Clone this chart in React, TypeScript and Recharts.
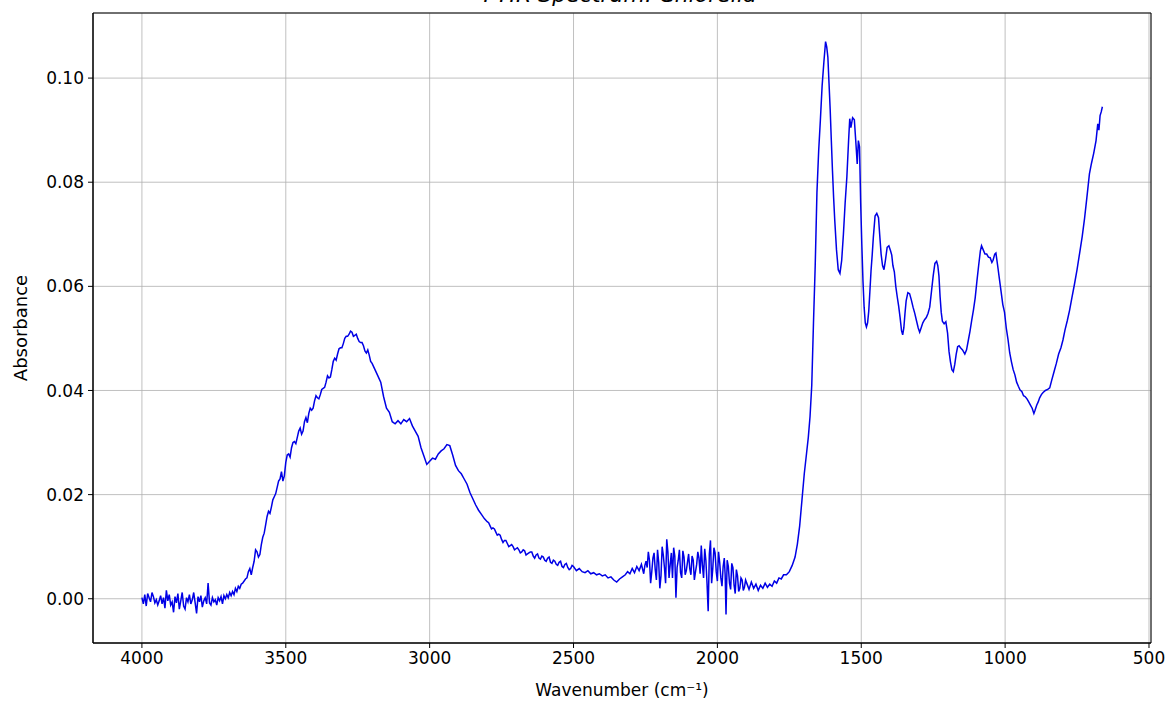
import { LineChart, Line, XAxis, YAxis, CartesianGrid, ReferenceArea } from 'recharts';

// [wavenumber (cm-1), absorbance]
const baselineRegion: [number, number][] = [
  [4000, 0.0002], [3995, -0.001], [3990, 0.0008], [3985, -0.0014], [3980, 0.001],
  [3975, 0.0002], [3970, -0.0006], [3965, 0.0012], [3960, 0.0004], [3955, -0.0008],
  [3950, -0.0002], [3945, -0.0012], [3940, -0.0004], [3935, 0.0006], [3930, -0.001],
  [3925, 0.0002], [3920, -0.0018], [3915, 0.0016], [3910, -0.0004], [3905, 0.0008],
  [3900, -0.0012], [3895, -0.0006], [3890, -0.0026], [3885, 0.0004], [3880, -0.0008],
  [3875, 0.001], [3870, -0.002], [3865, -0.0004], [3860, 0.0012], [3855, -0.0014],
  [3850, -0.002], [3845, 0.0002], [3840, -0.0006], [3835, 0.0008], [3830, -0.001],
  [3825, -0.0002], [3820, 0.0012], [3815, -0.0008], [3810, -0.0028], [3805, 0.0004],
  [3800, -0.0006], [3795, 0.0006], [3790, -0.0016], [3785, -0.0004], [3780, 0.0002],
  [3775, -0.001], [3770, 0.003], [3765, -0.0008], [3760, -0.0012], [3755, 0.0002],
  [3750, -0.0006], [3745, -0.0002], [3740, -0.0012], [3735, 0.0002], [3730, -0.0004],
  [3725, 0.0004], [3720, -0.001], [3715, 0.0006], [3710, 0], [3705, 0.0008],
  [3700, 0.0002], [3695, 0.0012], [3690, 0.0006], [3685, 0.0014], [3680, 0.0008],
  [3675, 0.002], [3670, 0.0014], [3665, 0.0024], [3660, 0.002], [3655, 0.0028],
  [3650, 0.003]
];

const ohBand: [number, number][] = [
  [3640, 0.0038], [3635, 0.004], [3630, 0.0052], [3625, 0.0058], [3620, 0.0046],
  [3615, 0.006], [3610, 0.0072], [3605, 0.0094], [3600, 0.009], [3595, 0.008],
  [3590, 0.0085], [3585, 0.0104], [3580, 0.0118], [3575, 0.0126], [3570, 0.0142],
  [3565, 0.0158], [3560, 0.0168], [3555, 0.0164], [3550, 0.0176], [3545, 0.019],
  [3540, 0.0196], [3535, 0.0202], [3530, 0.0214], [3525, 0.0226], [3520, 0.023],
  [3515, 0.0244], [3510, 0.0226], [3505, 0.0236], [3500, 0.0262], [3495, 0.0276],
  [3490, 0.0278], [3485, 0.0272], [3480, 0.029], [3475, 0.03], [3470, 0.0302],
  [3465, 0.0298], [3460, 0.031], [3455, 0.0322], [3450, 0.0328], [3445, 0.0316],
  [3440, 0.0322], [3435, 0.034], [3430, 0.0348], [3425, 0.0338], [3420, 0.0356],
  [3415, 0.0366], [3410, 0.0362], [3405, 0.0366], [3400, 0.038], [3395, 0.039],
  [3390, 0.0386], [3385, 0.0384], [3380, 0.0392], [3375, 0.0402], [3370, 0.0404],
  [3365, 0.0406], [3360, 0.0416], [3355, 0.0428], [3350, 0.0424], [3345, 0.0426],
  [3340, 0.044], [3335, 0.0456], [3330, 0.0462], [3325, 0.0458], [3320, 0.047],
  [3315, 0.048], [3310, 0.0482], [3305, 0.0482], [3300, 0.049], [3295, 0.05],
  [3290, 0.0504], [3285, 0.0504], [3280, 0.0508], [3275, 0.0514], [3270, 0.0512],
  [3265, 0.0504], [3260, 0.0506], [3255, 0.0508], [3250, 0.05], [3245, 0.0494],
  [3240, 0.0492], [3235, 0.0492], [3230, 0.0486], [3225, 0.0476], [3220, 0.0472],
  [3215, 0.0478], [3210, 0.0468], [3205, 0.0456], [3200, 0.0452],
  [3190, 0.044], [3180, 0.0428], [3170, 0.0416], [3160, 0.0388], [3150, 0.0366],
  [3140, 0.0358], [3130, 0.034], [3120, 0.0336], [3110, 0.0342], [3100, 0.0336],
  [3090, 0.0344], [3080, 0.034], [3070, 0.0346], [3060, 0.0332], [3050, 0.0322],
  [3040, 0.0312], [3030, 0.029], [3020, 0.0274], [3010, 0.0258], [3000, 0.0264],
  [2990, 0.027], [2980, 0.0268], [2970, 0.0278], [2960, 0.0284], [2950, 0.0288],
  [2940, 0.0296], [2930, 0.0294], [2920, 0.0276], [2910, 0.0256], [2900, 0.0246],
  [2890, 0.024], [2880, 0.023], [2870, 0.022], [2860, 0.0204], [2850, 0.0192],
  [2840, 0.018], [2830, 0.017], [2820, 0.0162], [2810, 0.0154], [2800, 0.0148]
];

const tailRegion: [number, number][] = [
  [2795, 0.0146], [2790, 0.014], [2785, 0.0134], [2780, 0.0136], [2775, 0.0134],
  [2770, 0.0128], [2765, 0.0122], [2760, 0.0124], [2755, 0.0122], [2750, 0.0114],
  [2745, 0.0108], [2740, 0.0112], [2735, 0.0112], [2730, 0.0106], [2725, 0.01],
  [2720, 0.0102], [2715, 0.0104], [2710, 0.01], [2705, 0.0094], [2700, 0.0096],
  [2695, 0.0098], [2690, 0.0094], [2685, 0.0088], [2680, 0.009], [2675, 0.0094],
  [2670, 0.0092], [2665, 0.0084], [2660, 0.0086], [2655, 0.0088], [2650, 0.009],
  [2645, 0.009], [2640, 0.0082], [2635, 0.0078], [2630, 0.0084], [2625, 0.0086],
  [2620, 0.0078], [2615, 0.0076], [2610, 0.0082], [2605, 0.008], [2600, 0.0074],
  [2595, 0.0072], [2590, 0.0078], [2585, 0.008], [2580, 0.007], [2575, 0.0068],
  [2570, 0.0074], [2565, 0.0072], [2560, 0.0066], [2555, 0.0064], [2550, 0.007],
  [2545, 0.0072], [2540, 0.0062], [2535, 0.006], [2530, 0.0066], [2525, 0.0068],
  [2520, 0.006], [2515, 0.0056], [2510, 0.0058], [2505, 0.0064], [2500, 0.0062],
  [2490, 0.0054], [2480, 0.0058], [2470, 0.0052], [2460, 0.005], [2450, 0.0054],
  [2440, 0.0048], [2430, 0.005], [2420, 0.0046], [2410, 0.0048], [2400, 0.0044],
  [2390, 0.0046], [2380, 0.004], [2370, 0.0042], [2360, 0.0036], [2350, 0.0032],
  [2340, 0.0038], [2330, 0.0042]
];

const co2Region: [number, number][] = [
  [2320, 0.0046], [2312, 0.0052], [2304, 0.0048], [2296, 0.0058], [2288, 0.005],
  [2280, 0.0062], [2272, 0.0054], [2264, 0.0066], [2256, 0.0048], [2252, 0.0064],
  [2248, 0.0072], [2244, 0.006], [2240, 0.009], [2236, 0.0074], [2232, 0.003],
  [2228, 0.0052], [2224, 0.0078], [2220, 0.0088], [2216, 0.0056], [2212, 0.0036],
  [2208, 0.0094], [2204, 0.007], [2200, 0.002], [2196, 0.0044], [2192, 0.01],
  [2188, 0.0084], [2184, 0.006], [2180, 0.003], [2176, 0.0114], [2172, 0.009],
  [2168, 0.004], [2164, 0.0066], [2160, 0.0088], [2156, 0.004], [2152, 0.0098],
  [2148, 0.0082], [2144, 0.0002], [2140, 0.006], [2136, 0.0074], [2132, 0.0094],
  [2128, 0.005], [2124, 0.004], [2120, 0.0092], [2116, 0.008], [2112, 0.0046],
  [2108, 0.0054], [2104, 0.007], [2100, 0.0086], [2096, 0.0058], [2092, 0.0046],
  [2088, 0.0082], [2084, 0.0074], [2080, 0.0036], [2076, 0.0052], [2072, 0.0066],
  [2068, 0.009], [2064, 0.0078], [2060, 0.0048], [2056, 0.0102], [2052, 0.0064],
  [2048, 0.004], [2044, 0.0096], [2040, 0.0074], [2036, 0.003], [2032, -0.0024],
  [2028, 0.0086], [2024, 0.0112], [2020, 0.003], [2016, 0.0058], [2012, 0.0098],
  [2008, 0.0088], [2004, 0.0052], [2000, 0.0034], [1996, 0.009], [1992, 0.007],
  [1988, 0.004], [1984, 0.0024], [1980, 0.0062], [1976, 0.0078], [1973, 0.0046],
  [1970, -0.003], [1966, 0.0074], [1962, 0.0062], [1958, 0.003], [1954, 0.0018],
  [1950, 0.0068], [1946, 0.006], [1942, 0.0026], [1938, 0.001], [1934, 0.0056],
  [1930, 0.0044], [1926, 0.0014], [1922, 0.002], [1918, 0.004], [1914, 0.0036],
  [1910, 0.0016], [1906, 0.0022], [1902, 0.0036], [1898, 0.003], [1890, 0.0018],
  [1882, 0.0032], [1874, 0.002], [1866, 0.0028], [1858, 0.0016], [1850, 0.0026],
  [1842, 0.002], [1834, 0.003], [1826, 0.0022], [1818, 0.0028], [1810, 0.0024],
  [1802, 0.0034], [1794, 0.003], [1786, 0.004], [1778, 0.0038], [1770, 0.0046]
];

const amideRegion: [number, number][] = [
  [1760, 0.0046], [1750, 0.0052], [1740, 0.0064], [1730, 0.008], [1722, 0.0105],
  [1714, 0.014], [1706, 0.019], [1698, 0.024], [1690, 0.028], [1684, 0.031],
  [1678, 0.035], [1672, 0.041], [1666, 0.053], [1660, 0.064], [1654, 0.078],
  [1648, 0.086], [1642, 0.092], [1636, 0.0985], [1630, 0.103], [1624, 0.107],
  [1620, 0.106], [1616, 0.104], [1612, 0.099], [1608, 0.094], [1604, 0.088],
  [1600, 0.0822], [1596, 0.077], [1592, 0.0726], [1586, 0.067], [1580, 0.0632],
  [1574, 0.0625], [1568, 0.065], [1562, 0.07], [1556, 0.076], [1550, 0.081],
  [1544, 0.088], [1540, 0.0922], [1536, 0.0905], [1530, 0.0924], [1524, 0.092],
  [1518, 0.087], [1514, 0.0835], [1510, 0.088], [1506, 0.0868], [1502, 0.076],
  [1498, 0.068], [1494, 0.061], [1490, 0.056], [1486, 0.053], [1482, 0.0522],
  [1478, 0.053], [1474, 0.0552], [1470, 0.059], [1466, 0.063], [1462, 0.066],
  [1458, 0.0694], [1452, 0.0735], [1446, 0.074], [1440, 0.0732], [1436, 0.07],
  [1431, 0.0662], [1426, 0.064], [1421, 0.0632], [1416, 0.065], [1410, 0.0675],
  [1404, 0.0678], [1398, 0.0668], [1394, 0.066], [1390, 0.064], [1385, 0.0628],
  [1380, 0.06], [1375, 0.058], [1370, 0.0562], [1365, 0.054], [1360, 0.0515],
  [1356, 0.0507], [1352, 0.052], [1348, 0.0548], [1344, 0.0572], [1338, 0.0588],
  [1332, 0.0586], [1326, 0.0574], [1320, 0.056], [1314, 0.0548], [1308, 0.0534],
  [1302, 0.052], [1297, 0.0512], [1292, 0.052], [1286, 0.053], [1280, 0.0536],
  [1274, 0.054], [1268, 0.0548], [1262, 0.056], [1256, 0.059], [1250, 0.062],
  [1244, 0.0644], [1238, 0.0648], [1234, 0.064], [1230, 0.062], [1226, 0.058],
  [1222, 0.055], [1218, 0.0533], [1212, 0.0528], [1206, 0.0532], [1200, 0.051],
  [1195, 0.0475], [1190, 0.0455], [1185, 0.044], [1180, 0.0436], [1175, 0.045],
  [1170, 0.047], [1165, 0.0484], [1160, 0.0486], [1155, 0.0482], [1148, 0.0478],
  [1140, 0.047], [1134, 0.0478], [1128, 0.0496], [1122, 0.0514], [1116, 0.0535],
  [1110, 0.0555], [1104, 0.0578], [1098, 0.061], [1092, 0.064], [1086, 0.0668],
  [1082, 0.0678], [1076, 0.067], [1070, 0.0662], [1064, 0.0662], [1058, 0.0656],
  [1052, 0.0655], [1046, 0.0646], [1042, 0.065], [1036, 0.0662], [1032, 0.0664],
  [1026, 0.064], [1020, 0.0615], [1014, 0.059], [1008, 0.0565], [1002, 0.055],
  [996, 0.052], [990, 0.0498], [984, 0.0472], [978, 0.0455], [972, 0.044],
  [966, 0.043], [960, 0.0416], [954, 0.0408], [948, 0.0401], [942, 0.0398],
  [936, 0.039], [930, 0.0388], [924, 0.0384], [918, 0.0378], [912, 0.0372],
  [906, 0.0366], [900, 0.0356], [896, 0.0362], [890, 0.0372], [885, 0.0378],
  [880, 0.0386], [874, 0.0392], [868, 0.0396], [860, 0.04], [852, 0.0402],
  [845, 0.0405], [838, 0.042], [830, 0.0436], [822, 0.0452], [814, 0.047],
  [806, 0.0482], [799, 0.0497], [792, 0.0516], [784, 0.0534], [776, 0.0554],
  [768, 0.0578], [759, 0.0604], [750, 0.0632], [741, 0.0664], [732, 0.0696],
  [724, 0.073], [716, 0.077], [707, 0.0816], [700, 0.0836], [692, 0.0856],
  [684, 0.088], [678, 0.0912], [674, 0.09], [670, 0.0928], [666, 0.0935],
  [662, 0.0945]
];

const xTicks = [4000, 3500, 3000, 2500, 2000, 1500, 1000, 500];
const yTicks = [0, 0.02, 0.04, 0.06, 0.08, 0.1];
const xDomain: [number, number] = [493, 4170];
const yDomain: [number, number] = [-0.0085, 0.1125];

const spectrum = [...baselineRegion, ...ohBand, ...tailRegion, ...co2Region, ...amideRegion].map(
  ([wn, abs]) => ({ wn, abs })
);

const FONT = '"DejaVu Sans", sans-serif';
const tickStyle = { fill: '#000', fontSize: 17, fontFamily: FONT };

const YLabel = () => (
  <text
    x={20}
    y={328}
    transform="rotate(-90 20 328)"
    textAnchor="middle"
    dominantBaseline="central"
    fontSize={18}
    fontFamily={FONT}
    fill="#000"
  >
    Absorbance
  </text>
);

export default function App() {
  return (
    <div style={{ position: 'absolute', left: 0, top: 0, width: 1165, height: 705, background: '#fff', overflow: 'hidden' }}>
      {/* title sits mostly above the frame, as in the reference */}
      <div
        style={{
          position: 'absolute',
          left: 0,
          width: 1240,
          top: -18,
          textAlign: 'center',
          fontFamily: FONT,
          fontStyle: 'italic',
          fontSize: 22,
          lineHeight: '26px'
        }}
      >
        FTIR Spectrum: Chlorella
      </div>
      <LineChart width={1165} height={705} data={spectrum} margin={{ top: 13, right: 14, bottom: 0, left: 0 }}>
        <CartesianGrid stroke="#b0b0b0" strokeWidth={0.8} />
        <XAxis
          dataKey="wn"
          type="number"
          domain={xDomain}
          reversed
          ticks={xTicks}
          allowDataOverflow
          height={62}
          tick={tickStyle}
          tickSize={5}
          tickMargin={4}
          stroke="#000"
          label={{ value: 'Wavenumber (cm⁻¹)', position: 'insideBottom', offset: 9, fill: '#000', fontSize: 17, fontFamily: FONT }}
        />
        <YAxis
          type="number"
          domain={yDomain}
          ticks={yTicks}
          allowDataOverflow
          width={93}
          tick={tickStyle}
          tickSize={5}
          tickMargin={4}
          stroke="#000"
          tickFormatter={(v: number) => v.toFixed(2)}
          label={YLabel}
        />
        <ReferenceArea
          x1={xDomain[1]}
          x2={xDomain[0]}
          y1={yDomain[0]}
          y2={yDomain[1]}
          fill="none"
          stroke="#000"
          strokeWidth={1}
          ifOverflow="visible"
        />
        <Line
          type="linear"
          dataKey="abs"
          stroke="#0000e6"
          strokeWidth={1.5}
          dot={false}
          activeDot={false}
          isAnimationActive={false}
        />
      </LineChart>
    </div>
  );
}
